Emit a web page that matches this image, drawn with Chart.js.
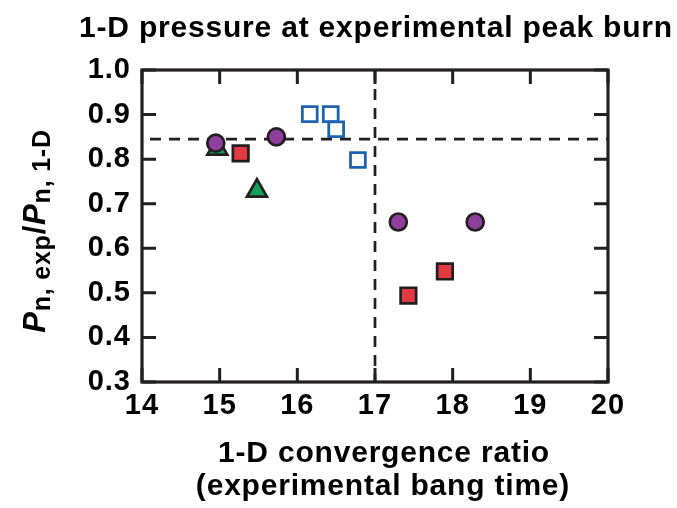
<!DOCTYPE html>
<html>
<head>
<meta charset="utf-8">
<script src="https://cdn.jsdelivr.net/npm/chart.js@4"></script>
<style>
  html, body { margin: 0; padding: 0; background: #fff; }
  #wrap { width: 677px; height: 508px; }
</style>
</head>
<body>
<div id="wrap"><canvas id="chart" width="677" height="508"></canvas></div>
<script>
// values
const circleX = [14.95, 15.73, 17.30, 18.29];
const circleY = [0.836, 0.850, 0.659, 0.659];
const redSqX = [15.27, 17.43, 17.90];
const redSqY = [0.813, 0.494, 0.548];
const triX = [14.97, 15.48];
const triY = [0.823, 0.729];
const openSqX = [16.16, 16.43, 16.50, 16.78];
const openSqY = [0.901, 0.901, 0.867, 0.798];

const refX = 17;      // vertical dashed line
const refY = 0.845;   // horizontal dashed line

const xTicks = [14, 15, 16, 17, 18, 19, 20];
const yTicks = [0.3, 0.4, 0.5, 0.6, 0.7, 0.8, 0.9, 1.0];

const INK = '#231f20';
const FONT = '"Liberation Sans", Arial, Helvetica, sans-serif';

const pts = (xs, ys) => xs.map((x, i) => ({ x: x, y: ys[i] }));

// dashed reference lines, under the markers
const refLines = {
    id: 'refLines',
    beforeDatasetsDraw(chart) {
        const { ctx, chartArea: a, scales: { x, y } } = chart;
        ctx.save();
        ctx.strokeStyle = INK;
        ctx.lineWidth = 2.7;
        ctx.setLineDash([11, 8]);
        ctx.lineDashOffset = 11;
        const py = y.getPixelForValue(refY);
        ctx.beginPath();
        ctx.moveTo(a.left, py);
        ctx.lineTo(a.right, py);
        ctx.stroke();
        const px = x.getPixelForValue(refX);
        ctx.lineDashOffset = 0;
        ctx.beginPath();
        ctx.moveTo(px, a.top);
        ctx.lineTo(px, a.bottom);
        ctx.stroke();
        ctx.restore();
    }
};

// frame, inward ticks on all four sides, titles
const frame = {
    id: 'frame',
    beforeDraw(chart) {
        chart.ctx.letterSpacing = '1px';
    },
    afterDraw(chart) {
        const { ctx, chartArea: a, scales: { x, y } } = chart;
        const tl = 14;
        ctx.save();
        ctx.strokeStyle = INK;
        ctx.lineWidth = 3;
        ctx.setLineDash([]);
        ctx.beginPath();
        xTicks.forEach(v => {
            const px = x.getPixelForValue(v);
            ctx.moveTo(px, a.bottom); ctx.lineTo(px, a.bottom - tl);
            ctx.moveTo(px, a.top); ctx.lineTo(px, a.top + tl);
        });
        yTicks.forEach(v => {
            const py = y.getPixelForValue(v);
            ctx.moveTo(a.left, py); ctx.lineTo(a.left + tl, py);
            ctx.moveTo(a.right, py); ctx.lineTo(a.right - tl, py);
        });
        ctx.stroke();
        ctx.lineWidth = 3.2;
        ctx.strokeRect(a.left, a.top, a.right - a.left, a.bottom - a.top);

        ctx.fillStyle = '#000';
        ctx.letterSpacing = '0.8px';
        ctx.textAlign = 'center';
        ctx.textBaseline = 'alphabetic';
        ctx.font = 'bold 30px ' + FONT;
        ctx.fillText('1-D pressure at experimental peak burn', 376, 37);
        ctx.fillText('1-D convergence ratio', 384, 462);
        ctx.fillText('(experimental bang time)', 383, 495);

        // y title: P_{n, exp} / P_{n, 1-D}
        const parts = [
            { t: 'P', f: 'italic bold 31px ', dy: 0 },
            { t: 'n, exp', f: 'bold 25px ', dy: 5 },
            { t: '/', f: 'bold 31px ', dy: 0 },
            { t: 'P', f: 'italic bold 31px ', dy: 0 },
            { t: 'n, 1-D', f: 'bold 25px ', dy: 5 }
        ];
        ctx.letterSpacing = '0.8px';
        let total = 0;
        parts.forEach(p => { ctx.font = p.f + FONT; p.w = ctx.measureText(p.t).width; total += p.w; });
        ctx.translate(45, 231);
        ctx.rotate(-Math.PI / 2);
        ctx.textAlign = 'left';
        let cx = -total / 2;
        parts.forEach(p => {
            ctx.font = p.f + FONT;
            ctx.fillText(p.t, cx, p.dy);
            cx += p.w;
        });
        ctx.restore();
    }
};

new Chart(document.getElementById('chart'), {
    type: 'scatter',
    data: {
        datasets: [{
            data: pts(circleX, circleY),
            pointStyle: 'circle',
            pointRadius: 8.5,
            backgroundColor: '#8e3f9b',
            borderColor: INK,
            borderWidth: 2.7
        }, {
            data: pts(redSqX, redSqY),
            pointStyle: 'rect',
            pointRadius: 11,
            backgroundColor: '#e23a40',
            borderColor: INK,
            borderWidth: 2.7
        }, {
            data: pts(triX, triY),
            pointStyle: 'triangle',
            pointRadius: 11.5,
            backgroundColor: '#10a05c',
            borderColor: INK,
            borderWidth: 2.7
        }, {
            data: pts(openSqX, openSqY),
            pointStyle: 'rect',
            pointRadius: 10.5,
            backgroundColor: 'rgba(0,0,0,0)',
            borderColor: '#1f63b0',
            borderWidth: 2.8
        }]
    },
    options: {
        responsive: false,
        animation: false,
        layout: { padding: { top: 70, right: 69, left: 0, bottom: 0 } },
        plugins: {
            legend: { display: false },
            tooltip: { enabled: false },
            title: { display: false }
        },
        scales: {
            x: {
                type: 'linear',
                min: 14,
                max: 20,
                afterFit: s => { s.height = 126; },
                afterBuildTicks: s => { s.ticks = xTicks.map(v => ({ value: v })); },
                grid: { display: false, drawTicks: false },
                border: { display: false },
                ticks: {
                    padding: 7,
                    color: '#000',
                    font: { family: FONT, size: 29, weight: 'bold' }
                }
            },
            y: {
                type: 'linear',
                min: 0.3,
                max: 1.0,
                afterFit: s => { s.width = 142; },
                afterBuildTicks: s => { s.ticks = yTicks.map(v => ({ value: v })); },
                grid: { display: false, drawTicks: false },
                border: { display: false },
                ticks: {
                    padding: 11,
                    color: '#000',
                    font: { family: FONT, size: 29, weight: 'bold' },
                    callback: v => v.toFixed(1)
                }
            }
        }
    },
    plugins: [refLines, frame]
});
</script>
</body>
</html>
